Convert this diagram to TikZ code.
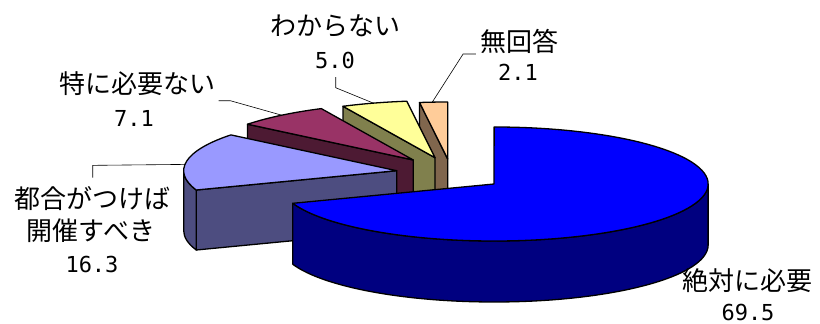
\documentclass[tikz,border=0pt]{standalone}
\usepackage{fontspec}
\usepackage{tikz}
\usetikzlibrary{calc}
\newfontfamily\jpfont{Noto Sans CJK JP}
\newfontfamily\numfont{DejaVu Sans Mono}
\definecolor{blueTop}{HTML}{0000FF}
\definecolor{blueSide}{HTML}{000080}
\definecolor{lilacTop}{HTML}{9999FF}
\definecolor{lilacSide}{HTML}{4D4D80}
\definecolor{plumTop}{HTML}{993366}
\definecolor{plumSide}{HTML}{4D1A33}
\definecolor{lemonTop}{HTML}{FFFF99}
\definecolor{lemonSide}{HTML}{80804D}
\definecolor{peachTop}{HTML}{FFCC99}
\definecolor{peachSide}{HTML}{80664D}
\tikzset{
  slice/.style={draw=black, line width=1.3pt, line join=round},
  leader/.style={draw=black, line width=0.6pt},
  jplabel/.style={inner sep=0pt, font=\jpfont\fontsize{26}{30}\selectfont},
  numlabel/.style={inner sep=0pt, font=\numfont\fontsize{22}{26}\selectfont}
}
\begin{document}
\begin{tikzpicture}[x=1pt,y=1pt,yscale=-1,xscale=1]
\useasboundingbox (0,0) rectangle (820,324);

% slice centres
\coordinate (c1) at (447.7,159);
\coordinate (c2) at (435,157.7);
\coordinate (c3) at (413.3,160);
\coordinate (c4) at (396.7,170.7);
\coordinate (c5) at (494,184);

%Shape: Slice [無回答] 
\draw[slice, fill=peachSide] (c1) -- (419.5,102.5) -- ++(0,60) -- ($(c1)+(0,60)$) -- cycle;
\draw[slice, fill=peachTop] (c1) -- (447.7,102) arc[start angle=-90, end angle=-97.6, x radius=213, y radius=57] -- cycle;
%Shape: Slice [わからない] 
\draw[slice, fill=lemonSide] (c2) -- (343.0,106.3) -- ++(0,60) -- ($(c2)+(0,60)$) -- cycle;
\draw[slice, fill=lemonTop] (c2) -- (406.8,101.2) arc[start angle=-97.6, end angle=-115.6, x radius=213, y radius=57] -- cycle;
%Shape: Slice [特に必要ない] 
\draw[slice, fill=plumSide] (c3) -- (247.5,124.2) -- ++(0,60) -- ($(c3)+(0,60)$) -- cycle;
\draw[slice, fill=plumTop] (c3) -- (321.3,108.6) arc[start angle=-115.6, end angle=-141.1, x radius=213, y radius=57] -- cycle;
%Shape: Slice [都合がつけば] 
\draw[slice, fill=lilacSide] (c4) -- (196.3,190) -- ++(0,60) -- ($(c4)+(0,60)$) -- cycle;
\draw[slice, fill=lilacSide] (183.7,170.7) arc[start angle=-180, end angle=-199.8, x radius=213, y radius=57] -- ++(0,60) arc[start angle=-199.8, end angle=-180, x radius=213, y radius=57] -- cycle;
\draw[slice, fill=lilacTop] (c4) -- (230.9,134.9) arc[start angle=-141.1, end angle=-199.8, x radius=213, y radius=57] -- cycle;
%Shape: Slice [絶対に必要] 
\draw[slice, fill=blueSide] (292.8,203.3) arc[start angle=-199.8, end angle=-360, x radius=214, y radius=57] -- ++(0,61) arc[start angle=-360, end angle=-199.8, x radius=214, y radius=57] -- cycle;
\draw[slice, fill=blueTop] (c5) -- (292.8,203.3) arc[start angle=-199.8, end angle=-450, x radius=214, y radius=57] -- cycle;

% Text Node
\node[jplabel] (t1) at (519,41) {無回答};
\node[numlabel] (v1) at (518,72.5) {2.1};
% Text Node
\node[jplabel] (t2) at (335.5,26.3) {わからない};
\node[numlabel] (v2) at (335,60.8) {5.0};
% Text Node
\node[jplabel] (t3) at (137.5,84) {特に必要ない};
\node[numlabel] (v3) at (134,118.3) {7.1};
% Text Node
\node[jplabel] (t4) at (92.5,198.3) {都合がつけば};
\node[jplabel] (t4b) at (91,231) {開催すべき};
\node[numlabel] (v4) at (92,264) {16.3};
% Text Node
\node[jplabel] (t5) at (747.5,281) {絶対に必要};
\node[numlabel] (v5) at (748,312) {69.5};

% leader lines
\coordinate (e1) at (432.3,102.1);
\coordinate (e2) at (373.3,103.1);
\coordinate (e3) at (281.7,115.2);
\coordinate (e4) at (185,164.4);
\draw[leader] ($(t1.west)+(-4,13)$) -- ++(-12.7,0) -- (e1);
\draw[leader] ($(v2.south)+(0.7,7.7)$) -- ++(0,10.7) -- (e2);
\draw[leader] ($(t3.east)+(3,16.7)$) -- ++(11.6,0) -- (e3);
\draw[leader] ($(t4.north)+(0.2,-8.4)$) -- ++(0,-12.3) -- (e4);

\end{tikzpicture}
\end{document}
